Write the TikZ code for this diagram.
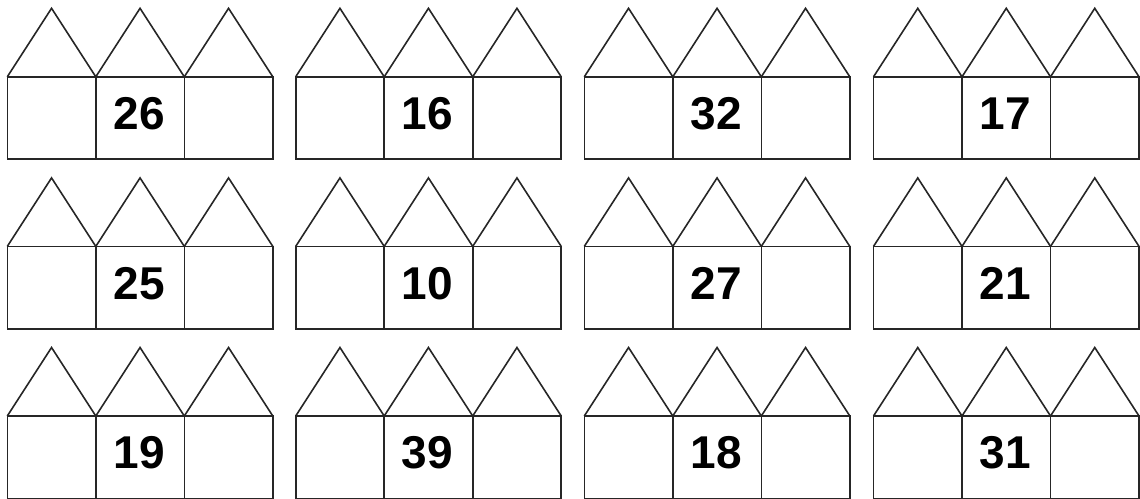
\documentclass[tikz,border=0pt]{standalone}
\usepackage{fontspec}
\setmainfont{Liberation Sans}
\begin{document}
\begin{tikzpicture}[x=1pt,y=-1pt,
  cell/.style={draw=black!85,line width=1.6pt,minimum width=88.5pt,minimum height=82.3pt,inner sep=0pt,outer sep=0pt},
  roof/.style={draw=black!85,line width=1.6pt,line join=miter},
  num/.style={font=\fontsize{46}{46}\selectfont\bfseries,inner sep=0pt,text=black}]
\useasboundingbox (0,0) rectangle (1140,498);
\foreach \r/\nums in {0/{26/7.3,16/295.7,32/584.3,17/873.5},1/{25/7.3,10/295.7,27/584.3,21/873.5},2/{19/7.3,39/295.7,18/584.3,31/873.5}} {
  \foreach \n/\xl [count=\c from 0] in \nums {
    \pgfmathsetmacro\yt{76.8+169.6*\r}
    \foreach \k in {0,1,2} {
      \node[cell] (h\r\c\k) at ({\xl+44.25+88.5*\k},{\yt+41.15}) {};
      \draw[roof] (h\r\c\k.north west) -- ++(44.25,-68.5) -- (h\r\c\k.north east);
    }
    \node[num] (n\r\c) at ([xshift=-1pt,yshift=4pt]h\r\c1.center) {\n};
  }
}
\end{tikzpicture}
\end{document}
